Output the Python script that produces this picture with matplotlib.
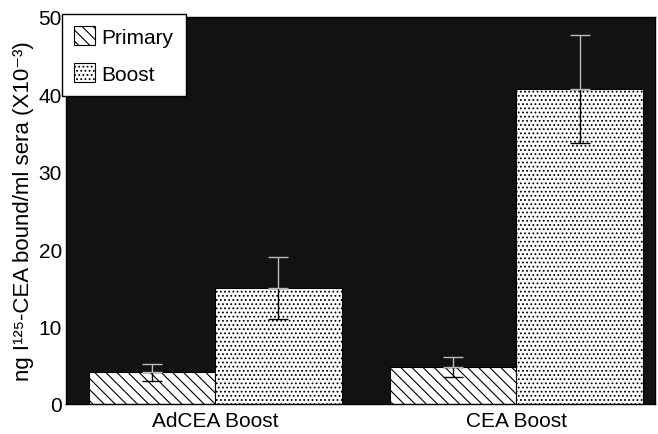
import numpy as np
import matplotlib
matplotlib.use("Agg")
import matplotlib.pyplot as plt

plt.rcParams['font.family'] = ['Liberation Sans', 'DejaVu Sans']
plt.rcParams['hatch.linewidth'] = 0.8

# data
groups = ["AdCEA Boost", "CEA Boost"]
primary = [4.1, 4.8]
primary_err = [1.1, 1.3]
boost = [15.0, 40.7]
boost_err = [4.0, 7.0]

fig = plt.figure(figsize=(6.58, 4.35), dpi=100)
ax = fig.add_axes([0.1003, 0.069, 0.895, 0.8897])
ax.set_facecolor('#121212')

x = np.arange(len(groups))
w = 0.42

b1 = ax.bar(x - w / 2, primary, w, color='white', edgecolor='black',
            hatch='\\\\\\', linewidth=0.8, label='Primary', zorder=2)
b2 = ax.bar(x + w / 2, boost, w, color='white', edgecolor='black',
            hatch='....', linewidth=0.8, label='Boost', zorder=2)

# error bars: lower half sits on the white bar (black), upper half on the dark field (light)
for xs, vals, errs in [(x - w / 2, primary, primary_err), (x + w / 2, boost, boost_err)]:
    zeros = [0] * len(vals)
    ax.errorbar(xs, vals, yerr=[errs, zeros], fmt='none', ecolor='black',
                elinewidth=1.0, capsize=7, capthick=1.0, zorder=3)
    ax.errorbar(xs, vals, yerr=[zeros, errs], fmt='none', ecolor='#bbbbbb',
                elinewidth=1.0, capsize=7, capthick=1.0, zorder=3)

ax.set_xlim(-0.495, 1.46)
ax.set_ylim(0, 50)
ax.set_yticks([0, 10, 20, 30, 40, 50])
ax.set_xticks(x)
ax.set_xticklabels(groups, fontsize=15)
ax.tick_params(axis='x', length=0, pad=5)
ax.tick_params(axis='y', length=0, labelsize=15, pad=3)
ax.set_ylabel("ng I\u00b9\u00b2\u2075-CEA bound/ml sera (X10\u207b\u00b3)", fontsize=16, labelpad=3)
for s in ax.spines.values():
    s.set_linewidth(1.0)

leg = ax.legend(loc='upper left', bbox_to_anchor=(-0.007, 1.008), borderaxespad=0,
                fontsize=15, frameon=True, fancybox=False, edgecolor='black', framealpha=1,
                handlelength=1.0, handleheight=1.0, handletextpad=0.3,
                borderpad=0.6, labelspacing=0.8)
leg.get_frame().set_linewidth(1.0)
leg.set_zorder(5)

fig.savefig("out.png", dpi=100)
